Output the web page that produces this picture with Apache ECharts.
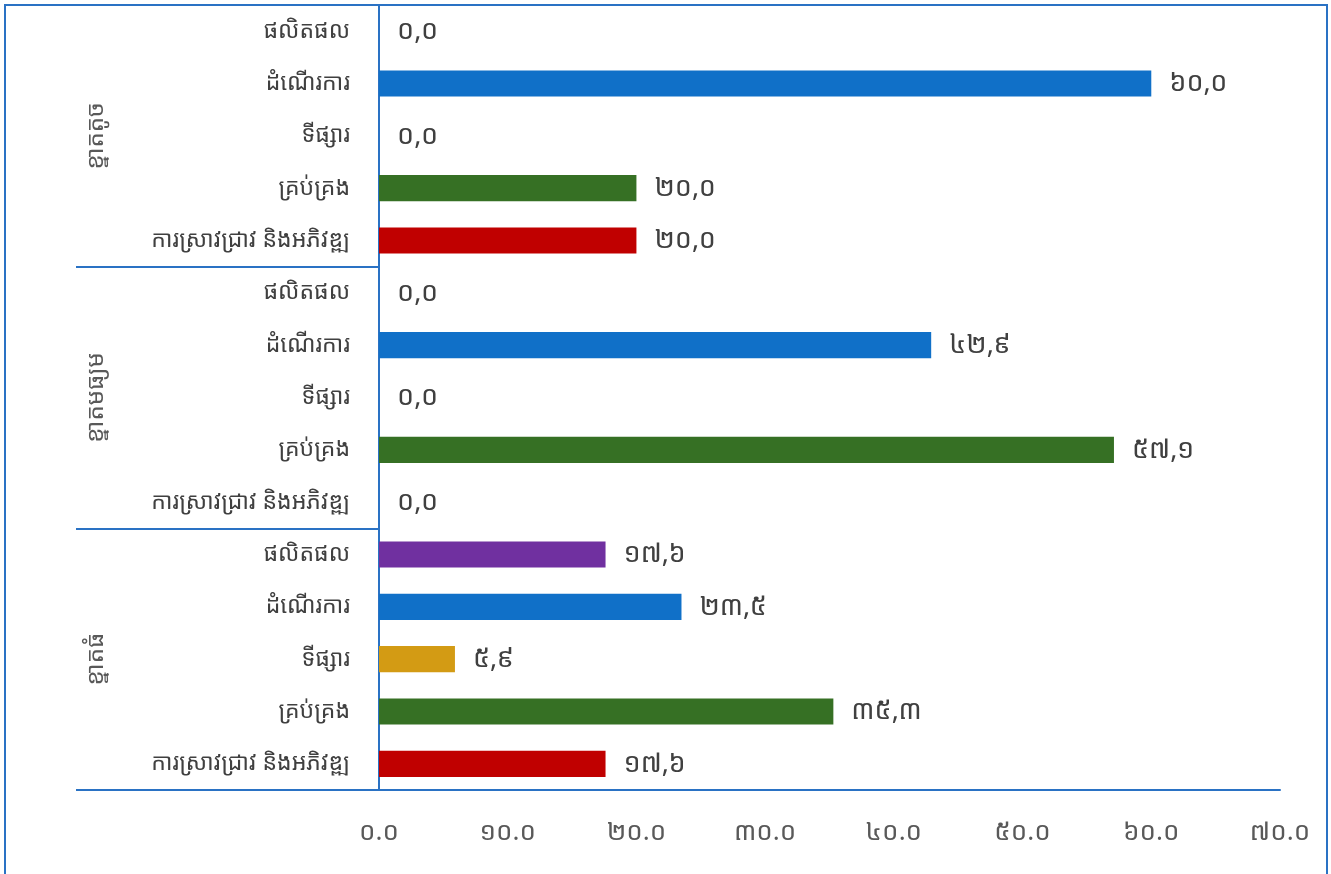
<!DOCTYPE html>
<html><head><meta charset="utf-8">
<script src="https://cdn.jsdelivr.net/npm/echarts@6/dist/echarts.min.js"></script>
<style>html,body{margin:0;padding:0;background:#fff}#c{width:1331px;height:874px}</style>
</head><body><div id="c"></div>
<script>
var groups = ['ខ្នាតតូច', 'ខ្នាតមធ្យម', 'ខ្នាតធំ'];
var categories = ['ផលិតផល', 'ដំណើរការ', 'ទីផ្សារ', 'គ្រប់គ្រង', 'ការស្រាវជ្រាវ និងអភិវឌ្ឍ'];
var smallValues = [0.0, 60.0, 0.0, 20.0, 20.0];
var mediumValues = [0.0, 42.9, 0.0, 57.1, 0.0];
var largeValues = [17.6, 23.5, 5.9, 35.3, 17.6];
var categoryColors = ['#7030a0', '#1070c8', '#d39b14', '#367024', '#c00000'];
var xTicks = [0, 10, 20, 30, 40, 50, 60, 70];

var KH = ['០','១','២','៣','៤','៥','៦','៧','៨','៩'];
function kh(s){ return String(s).replace(/[0-9]/g, function(d){ return KH[+d]; }); }

var allValues = [smallValues, mediumValues, largeValues];
var yCats = [], barData = [];
allValues.forEach(function(arr, g){
  arr.forEach(function(v, i){
    yCats.push(categories[i]);
    barData.push({value: v, itemStyle: {color: categoryColors[i]}});
  });
});

var font = '"Noto Sans Khmer","Khmer OS","Noto Sans",sans-serif';
var chart = echarts.init(document.getElementById('c'));
chart.setOption({
  animation: false,
  grid: {left: 379, right: 51, top: 5, bottom: 84, containLabel: false},
  xAxis: {
    type: 'value', min: xTicks[0], max: xTicks[xTicks.length - 1], interval: xTicks[1] - xTicks[0],
    axisLine: {show: true, lineStyle: {color: '#2a72c4', width: 2}},
    axisTick: {show: false},
    splitLine: {show: false},
    axisLabel: {margin: 30, fontSize: 26, color: '#595959', fontFamily: font,
      formatter: function(v){ return kh(v.toFixed(1)); }}
  },
  yAxis: [{
    type: 'category', data: yCats, inverse: true,
    axisLine: {show: true, lineStyle: {color: '#2a72c4', width: 2}},
    axisTick: {show: false},
    axisLabel: {margin: 29, fontSize: 23, color: '#404040', fontFamily: font}
  }, {
    type: 'category', data: groups, inverse: true, position: 'left', offset: 303,
    axisLine: {show: false},
    axisTick: {show: true, inside: true, length: 303, lineStyle: {color: '#2a72c4', width: 2}},
    axisLabel: {inside: true, rotate: 90, margin: 8, fontSize: 24, color: '#595959', fontFamily: font}
  }],
  series: [{
    type: 'bar', yAxisIndex: 0, data: barData, barWidth: '50%',
    label: {show: true, position: 'right', distance: 18, fontSize: 27, color: '#404040', fontFamily: font,
      formatter: function(p){ return kh(p.value.toFixed(1).replace('.', ',')); }}
  }],
  graphic: [{
    type: 'rect', shape: {x: 5, y: 5, width: 1322, height: 900},
    style: {fill: 'none', stroke: '#2a72c4', lineWidth: 2}, silent: true
  }]
});
</script></body></html>
